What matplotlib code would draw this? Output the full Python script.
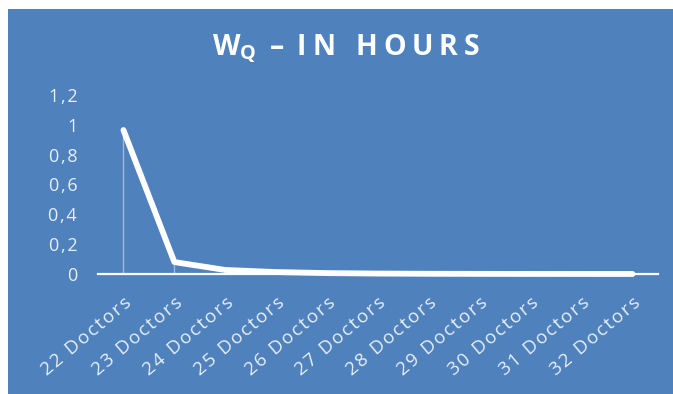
import matplotlib
matplotlib.use("Agg")
import matplotlib.pyplot as plt
from matplotlib.patches import Rectangle

# Average waiting time in queue (hours) by number of doctors on staff
categories = ["22 Doctors", "23 Doctors", "24 Doctors", "25 Doctors", "26 Doctors",
              "27 Doctors", "28 Doctors", "29 Doctors", "30 Doctors", "31 Doctors",
              "32 Doctors"]
wq_hours = [0.965, 0.08, 0.027, 0.013, 0.006, 0.003, 0.0015, 0.0008, 0.0004, 0.0002, 0.0001]
y_ticks = [0, 0.2, 0.4, 0.6, 0.8, 1.0, 1.2]
y_tick_labels = ["0", "0,2", "0,4", "0,6", "0,8", "1", "1,2"]

BLUE = "#4F81BD"
TEXT = "#E8EEF6"
FAMILY = ["Open Sans", "DejaVu Sans"]

plt.rcParams["mathtext.fontset"] = "custom"
plt.rcParams["mathtext.bf"] = "Open Sans:bold"
plt.rcParams["mathtext.rm"] = "Open Sans"


def tracked(s, gap):
    """Widen letter spacing by inserting a narrow space between characters."""
    return gap.join(list(s))


THIN = "\u2009"
HAIR = "\u200a"

W, H = 673, 394
fig = plt.figure(figsize=(W / 100, H / 100), dpi=100, facecolor="white")

# chart area panel
fig.patches.append(Rectangle((8 / W, 0), 1 - 8 / W, (H - 9) / H,
                             transform=fig.transFigure, facecolor=BLUE,
                             edgecolor="none", zorder=-5))

ax = fig.add_axes([98 / W, 120 / H, 560 / W, 179 / H])
ax.set_zorder(2)
ax.set_facecolor("none")

x = list(range(len(categories)))
# drop lines from each point to the axis
ax.vlines(x, 0, wq_hours, colors="white", linewidth=1.0, alpha=0.45, zorder=2)
ax.plot(x, wq_hours, color="white", linewidth=4.2, solid_capstyle="round",
        solid_joinstyle="round", zorder=3, clip_on=False)

ax.set_xlim(-0.5, len(categories) - 0.5)
ax.set_ylim(0, 1.2)

for s in ["top", "right", "left"]:
    ax.spines[s].set_visible(False)
ax.spines["bottom"].set_color("white")
ax.spines["bottom"].set_linewidth(1.6)

ax.set_yticks(y_ticks)
ax.set_yticklabels([tracked(t, HAIR) for t in y_tick_labels], family=FAMILY,
                   fontsize=13, color=TEXT)
ax.tick_params(axis="y", length=0, pad=15)

ax.set_xticks(x)
ax.set_xticklabels([tracked(c, HAIR) for c in categories], family=FAMILY,
                   fontsize=13.5, color=TEXT, rotation=40, ha="right", va="top",
                   rotation_mode="anchor")
ax.tick_params(axis="x", length=0, pad=14)

# spaced-out title lettering
title_tail = tracked("IN", THIN) + " " + THIN + " " + tracked("HOURS", THIN)
fig.text(346 / W, (H - 49) / H, r"$\mathbf{W_Q}$" + " " + THIN + "–" + THIN + " " + title_tail,
         ha="center", va="center", family=FAMILY, fontweight="bold",
         fontsize=20.5, color="white")

fig.savefig("out.png", dpi=100, facecolor="white")
